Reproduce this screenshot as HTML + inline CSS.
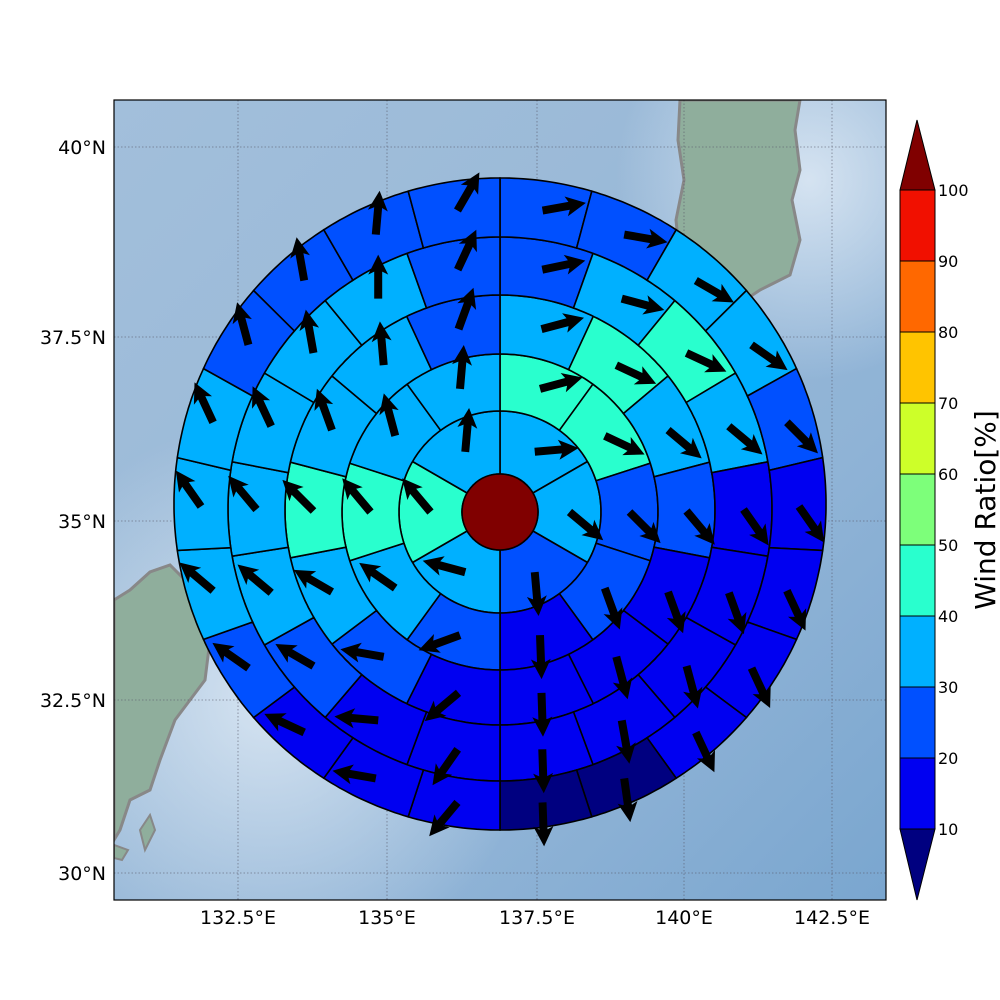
<!DOCTYPE html>
<html><head><meta charset="utf-8"><style>
html,body{margin:0;padding:0;background:#fff;width:1000px;height:1000px;overflow:hidden}
svg{display:block}
text{font-family:"DejaVu Sans","Liberation Sans",sans-serif}
</style></head><body>
<svg id="s" width="1000" height="1000" viewBox="0 0 1000 1000" xmlns="http://www.w3.org/2000/svg">
<defs>
<linearGradient id="oc" x1="0" y1="0" x2="1" y2="1">
<stop offset="0" stop-color="#a2bfdb"/><stop offset="0.35" stop-color="#9bbad8"/><stop offset="0.7" stop-color="#8fb3d6"/><stop offset="1" stop-color="#7aa6cf"/>
</linearGradient>
<radialGradient id="gl1" cx="0.2" cy="0.75" r="0.35"><stop offset="0" stop-color="#dce8f4" stop-opacity="0.9"/><stop offset="1" stop-color="#dce8f4" stop-opacity="0"/></radialGradient>
<radialGradient id="gl2" cx="0.9" cy="0.1" r="0.25"><stop offset="0" stop-color="#dce8f4" stop-opacity="0.9"/><stop offset="1" stop-color="#dce8f4" stop-opacity="0"/></radialGradient>
<clipPath id="ax"><rect x="114" y="100" width="772" height="800"/></clipPath>
</defs>
<g clip-path="url(#ax)">
<rect x="114" y="100" width="772" height="800" fill="url(#oc)"/>
<rect x="114" y="100" width="772" height="800" fill="url(#gl1)"/>
<rect x="114" y="100" width="772" height="800" fill="url(#gl2)"/>
<path d="M680,100 L800,100 L795,130 L800,170 L792,200 L800,240 L790,275 L770,285 L760,290 L745,300 L735,330 L700,300 L680,260 L676,220 L684,180 L678,140 Z" fill="#8fae9c" stroke="#888" stroke-width="3"/>
<path d="M114,600 L130,590 L150,572 L170,565 L185,580 L200,610 L210,640 L205,680 L190,700 L175,720 L160,760 L150,790 L130,800 L120,830 L114,840 Z" fill="#8fae9c" stroke="#888" stroke-width="3"/>
<path d="M114,845 L128,850 L122,860 L114,858 Z" fill="#8fae9c" stroke="#888" stroke-width="2"/>
<path d="M140,830 L150,815 L155,830 L145,850 Z" fill="#8fae9c" stroke="#888" stroke-width="2"/>
<g stroke="#556" stroke-width="0.8" stroke-dasharray="1.5,2" opacity="0.7">
<line x1="238" y1="100" x2="238" y2="900"/><line x1="387" y1="100" x2="387" y2="900"/><line x1="537" y1="100" x2="537" y2="900"/><line x1="684" y1="100" x2="684" y2="900"/><line x1="832" y1="100" x2="832" y2="900"/>
<line x1="114" y1="147" x2="886" y2="147"/><line x1="114" y1="337" x2="886" y2="337"/><line x1="114" y1="521" x2="886" y2="521"/><line x1="114" y1="700" x2="886" y2="700"/><line x1="114" y1="873" x2="886" y2="873"/>
</g>
<g id="wind"></g>
</g>
<rect x="114" y="100" width="772" height="800" fill="none" stroke="#000" stroke-width="1.2"/>
<g font-size="19" fill="#000">
<text x="238" y="924" text-anchor="middle">132.5°E</text>
<text x="387" y="924" text-anchor="middle">135°E</text>
<text x="537" y="924" text-anchor="middle">137.5°E</text>
<text x="684" y="924" text-anchor="middle">140°E</text>
<text x="832" y="924" text-anchor="middle">142.5°E</text>
<text x="106" y="154" text-anchor="end">40°N</text>
<text x="106" y="344" text-anchor="end">37.5°N</text>
<text x="106" y="528" text-anchor="end">35°N</text>
<text x="106" y="707" text-anchor="end">32.5°N</text>
<text x="106" y="880" text-anchor="end">30°N</text>
</g>
<g stroke="#000" stroke-width="1">
<polygon points="917,120 935,190 900,190" fill="#800000"/>
<rect x="900" y="190" width="35" height="71" fill="#f11000"/>
<rect x="900" y="261" width="35" height="71" fill="#ff6800"/>
<rect x="900" y="332" width="35" height="71" fill="#ffc400"/>
<rect x="900" y="403" width="35" height="71" fill="#cdff29"/>
<rect x="900" y="474" width="35" height="71" fill="#7dff7a"/>
<rect x="900" y="545" width="35" height="71" fill="#29ffce"/>
<rect x="900" y="616" width="35" height="71" fill="#00b0ff"/>
<rect x="900" y="687" width="35" height="71" fill="#0050ff"/>
<rect x="900" y="758" width="35" height="71" fill="#0000f1"/>
<polygon points="900,829 935,829 917,900" fill="#000080"/>
</g>
<g font-size="16" fill="#000">
<text x="938" y="196">100</text><text x="938" y="267">90</text><text x="938" y="338">80</text><text x="938" y="409">70</text><text x="938" y="480">60</text><text x="938" y="551">50</text><text x="938" y="622">40</text><text x="938" y="693">30</text><text x="938" y="764">20</text><text x="938" y="835">10</text>
</g>
<text transform="translate(995,510) rotate(-90)" font-size="28" text-anchor="middle">Wind Ratio[%]</text>
</svg>
<script>
(function(){
var C={N:"#000080",B:"#0000f1",M:"#0050ff",L:"#00b0ff",T:"#29ffce"};
var R=[38,101,158,215,272,326];
var CY=[512,512,512,510,509,504];
function cy(r){for(var i=0;i<R.length-1;i++){if(r<=R[i+1]){var t=(r-R[i])/(R[i+1]-R[i]);return CY[i]+t*(CY[i+1]-CY[i]);}}return 504;}
function pt(r,th){var a=th*Math.PI/180;return [500+r*Math.sin(a),cy(r)-r*Math.cos(a)];}
var cols=["LLMLTL","TTMMBMLTLL","LTLMBBBBMLTLLM","MLTLBBBBBBBMLLLLLM","MMLLMBBBBNNBBBMLLLMMMM"];
var hd=[[85,130,175,285,320,5],[75,115,135,160,178,250,305,320,345,5],[75,115,130,140,160,165,178,230,280,300,315,340,355,20],[78,105,115,130,145,160,165,170,178,215,275,300,310,320,335,350,0,25],[80,100,120,125,135,145,155,155,155,172,178,220,280,295,305,310,325,335,345,350,5,30]];
var g=document.getElementById("wind");var h="";var ar="";
for(var k=0;k<5;k++){var n=cols[k].length;var r1=R[k],r2=R[k+1];var d=360/n;
for(var i=0;i<n;i++){var t1=i*d,t2=(i+1)*d;var p=[];
for(var t=t1;t<=t2+0.001;t+=d/20)p.push(pt(r2,t));
for(var t=t2;t>=t1-0.001;t-=d/20)p.push(pt(r1,t));
h+='<polygon points="'+p.map(function(q){return q[0].toFixed(1)+","+q[1].toFixed(1)}).join(" ")+'" fill="'+C[cols[k][i]]+'" stroke="#000" stroke-width="1.6"/>';
var rm=(r1+r2)/2;var c=pt(rm,(t1+t2)/2);var a=hd[k][i]*Math.PI/180;
var L=44,hl=17,hw=10,sw=4;var ux=Math.sin(a),uy=-Math.cos(a),px=-uy,py=ux;
var x0=c[0],y0=c[1];var bx=x0+ux*(L-hl),by=y0+uy*(L-hl);var tx=x0+ux*L,ty=y0+uy*L;
var P=[[x0+px*sw,y0+py*sw],[bx+px*sw,by+py*sw],[bx+px*hw-ux*3,by+py*hw-uy*3],[tx,ty],[bx-px*hw-ux*3,by-py*hw-uy*3],[bx-px*sw,by-py*sw],[x0-px*sw,y0-py*sw]];
ar+='<polygon points="'+P.map(function(q){return q[0].toFixed(1)+","+q[1].toFixed(1)}).join(" ")+'" fill="#000"/>';
}}
h+='<circle cx="500" cy="512" r="38" fill="#800000" stroke="#000" stroke-width="1.6"/>';
g.innerHTML=h+ar;
})();
</script>
</body></html>
